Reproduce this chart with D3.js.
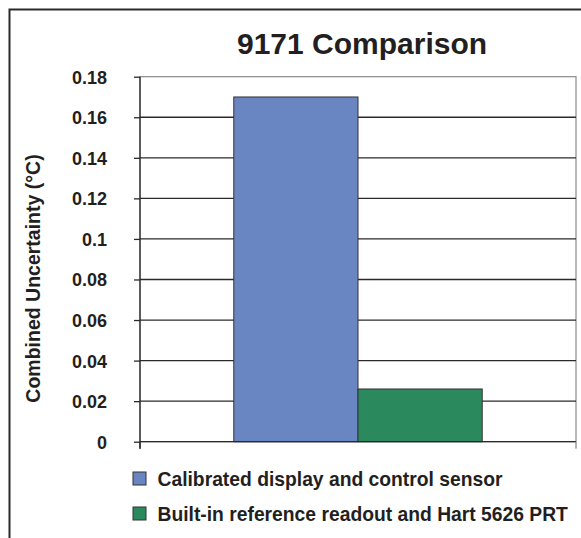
<!DOCTYPE html>
<html>
<head>
<meta charset="utf-8">
<script src="https://cdn.jsdelivr.net/npm/d3@7"></script>
<style>
  html, body { margin: 0; padding: 0; background: #fff; }
  svg { display: block; }
  text { font-family: "Liberation Sans", Arial, Helvetica, sans-serif; font-weight: bold; fill: #231f20; }
</style>
</head>
<body>
<svg id="chart" width="581" height="538"></svg>
<script>
const title = "9171 Comparison";
const yAxisTitle = "Combined Uncertainty (°C)";
const categories = ["9171"];
const seriesNames = ["Calibrated display and control sensor", "Built-in reference readout and Hart 5626 PRT"];
const seriesValues = [0.17, 0.026];
const seriesColors = ["#6a86c2", "#2b8a5d"];
const yTickValues = [0, 0.02, 0.04, 0.06, 0.08, 0.1, 0.12, 0.14, 0.16, 0.18];
const yTickLabels = ["0", "0.02", "0.04", "0.06", "0.08", "0.1", "0.12", "0.14", "0.16", "0.18"];

const svg = d3.select("#chart");
const W = 581, H = 538;
const plot = { left: 140, right: 576, top: 76.7, bottom: 441.7 };

// outer frame (top and left visible)
svg.append("path")
  .attr("d", `M9.5,${H} V9.5 H${W}`)
  .attr("fill", "none").attr("stroke", "#2b2b2b").attr("stroke-width", 2);

// title
svg.append("text")
  .attr("x", 362).attr("y", 54)
  .attr("text-anchor", "middle")
  .style("font-size", "30px")
  .text(title);

const x = d3.scaleBand().domain(categories).range([plot.left, plot.right]);
const xs = d3.scaleBand().domain(seriesNames).range([0, x.bandwidth()]).paddingInner(0).paddingOuter(0.755);
const y = d3.scaleLinear().domain([0, 0.18]).range([plot.bottom, plot.top]);

// plot area border (gray)
svg.append("rect")
  .attr("x", plot.left).attr("y", y(0.18))
  .attr("width", plot.right - plot.left).attr("height", y(0) - y(0.18))
  .attr("fill", "none").attr("stroke", "#8a8a8a").attr("stroke-width", 1.2);

// gridlines
svg.append("g").selectAll("line")
  .data(yTickValues.filter(v => v > 0 && v < 0.18))
  .join("line")
  .attr("x1", plot.left).attr("x2", plot.right)
  .attr("y1", d => y(d)).attr("y2", d => y(d))
  .attr("stroke", "#2a2a2a").attr("stroke-width", 1.3);

// bars
svg.append("g").selectAll("rect")
  .data(seriesNames.map((s, i) => ({ s, v: seriesValues[i], c: seriesColors[i], cat: categories[0] })))
  .join("rect")
  .attr("x", d => x(d.cat) + xs(d.s))
  .attr("y", d => y(d.v))
  .attr("width", xs.bandwidth())
  .attr("height", d => y(0) - y(d.v))
  .attr("fill", d => d.c)
  .attr("stroke", "#333").attr("stroke-width", 1);

// y axis
const yAxis = d3.axisLeft(y)
  .tickValues(yTickValues)
  .tickFormat((d, i) => yTickLabels[i])
  .tickSize(6).tickPadding(27);
const gy = svg.append("g").attr("transform", `translate(${plot.left},0)`).call(yAxis);
gy.select(".domain").attr("stroke", "#2a2a2a").attr("stroke-width", 1.3).attr("d", `M0,${y(0.18)}V${y(0) + 7}`);
gy.selectAll(".tick line").attr("stroke", "#2a2a2a").attr("stroke-width", 1.3);
gy.selectAll(".tick text").style("font-size", "18px").style("font-family", "'Liberation Sans', Arial, sans-serif").style("font-weight", "bold").attr("fill", "#231f20").attr("dy", "0.36em");

// x axis (ticks at category boundaries)
const gx = svg.append("g").attr("transform", `translate(0,${y(0)})`);
gx.append("line").attr("x1", plot.left).attr("x2", plot.right).attr("stroke", "#2a2a2a").attr("stroke-width", 1.3);
gx.selectAll("line.t").data([plot.left, plot.right]).join("line").attr("class", "t")
  .attr("x1", d => d).attr("x2", d => d).attr("y1", 0).attr("y2", 7)
  .attr("stroke", d => d === plot.left ? "#2a2a2a" : "#8a8a8a").attr("stroke-width", 1.3);

// y axis title
svg.append("text")
  .attr("transform", `translate(40,${(155 + 402) / 2}) rotate(-90)`)
  .attr("text-anchor", "middle")
  .style("font-size", "19.5px")
  .text(yAxisTitle);

// legend
const leg = svg.append("g").selectAll("g")
  .data(seriesNames.map((s, i) => ({ s, c: seriesColors[i], i })))
  .join("g")
  .attr("transform", d => `translate(133,${472 + d.i * 35})`);
leg.append("rect").attr("width", 13).attr("height", 13)
  .attr("fill", d => d.c).attr("stroke", "#333").attr("stroke-width", 1);
leg.append("text").attr("x", 24.5).attr("y", 14)
  .style("font-size", "19.3px")
  .text(d => d.s);
</script>
</body>
</html>
